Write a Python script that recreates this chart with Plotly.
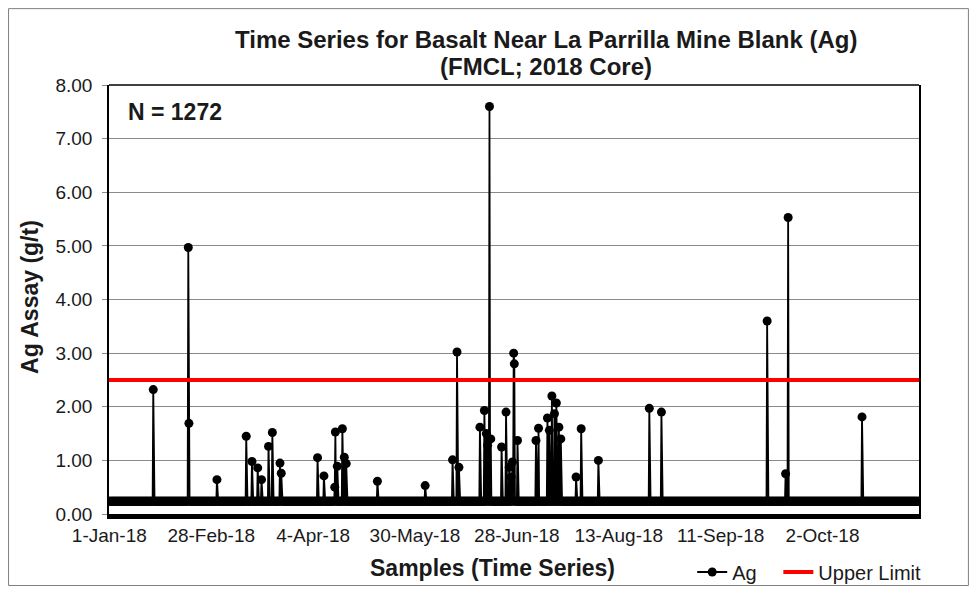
import numpy as np
import plotly.graph_objects as go

# Ag blank assays, FMCL 2018 core (g/t). Nearly every sample sits at the
# detection floor; only the samples listed in spike_idx returned higher values.
n_samples = 1272
detection_floor = 0.24
spike_idx = [70, 125, 126, 170, 216, 225, 234, 240, 251, 257, 269, 271,
             328, 338, 355, 356, 359, 367, 370, 373, 422, 497, 540, 547,
             550, 583, 590, 593, 595, 598, 600, 617, 624, 629, 632, 634,
             636, 637, 642, 671, 675, 689, 692, 696, 700, 703, 707, 710,
             734, 742, 769, 849, 868, 1034, 1063, 1067, 1183]
spike_val = [2.32, 4.97, 1.69, 0.64, 1.45, 0.98, 0.86, 0.64, 1.26, 1.52, 0.95, 0.76,
             1.05, 0.71, 0.50, 1.53, 0.89, 1.59, 1.06, 0.94, 0.61, 0.53, 1.01, 3.02,
             0.87, 1.62, 1.93, 1.50, 1.28, 7.60, 1.40, 1.25, 1.90, 0.87, 0.69, 0.97,
             3.00, 2.80, 1.37, 1.37, 1.60, 1.79, 1.56, 2.20, 1.87, 2.07, 1.62, 1.40,
             0.69, 1.59, 1.00, 1.97, 1.90, 3.60, 0.75, 5.53, 1.81]
upper_limit = 2.5

tick_pos = [1, 161, 321, 481, 641, 801, 961, 1121]
tick_labels = ["1-Jan-18", "28-Feb-18", "4-Apr-18", "30-May-18",
               "28-Jun-18", "13-Aug-18", "11-Sep-18", "2-Oct-18"]

samples = np.arange(1, n_samples + 1)
ag = np.full(n_samples, detection_floor)
ag[np.array(spike_idx) - 1] = spike_val

FONT = "Liberation Sans, Arial, sans-serif"
TXT = '#1a1a1a'
NB = '\u00a0'

fig = go.Figure()

fig.add_trace(go.Scatter(
    x=samples, y=ag,
    mode='lines+markers',
    name='Ag' + NB * 3,
    line=dict(color='black', width=1.8),
    marker=dict(color='black', size=9, symbol='circle'),
))

fig.add_trace(go.Scatter(
    x=[samples[0] - 0.5, samples[-1] + 0.5],
    y=[upper_limit, upper_limit],
    mode='lines',
    name='Upper Limit',
    line=dict(color='#ff0000', width=4),
))

# the page body keeps its default 8px margin, so the figure is kept inside
# the window and the margins are trimmed to match
fig.update_layout(
    width=961, height=578,
    margin=dict(l=101, r=50, t=77, b=72, autoexpand=False),
    paper_bgcolor='white',
    plot_bgcolor='white',
    font=dict(family=FONT, size=19, color=TXT),
    showlegend=True,
    legend=dict(
        orientation='h',
        xref='paper', yref='container',
        x=0.72, y=0.0242, xanchor='left', yanchor='middle',
        font=dict(size=20),
        bgcolor='rgba(0,0,0,0)',
    ),
    xaxis=dict(
        range=[0.5, n_samples + 0.5],
        tickmode='array', tickvals=tick_pos, ticktext=tick_labels,
        showgrid=False, zeroline=False,
        showline=True, linecolor='black', linewidth=5,
        ticks='', tickfont=dict(size=19),
    ),
    yaxis=dict(
        range=[0, 8], dtick=1, tickformat='.2f',
        showgrid=True, gridcolor='#8a8a8a', gridwidth=1,
        zeroline=False,
        showline=True, linecolor='black', linewidth=1.5, mirror=True,
        ticks='outside', ticklen=5, tickcolor='#8a8a8a',
        ticklabelstandoff=6,
        tickfont=dict(size=19),
    ),
    shapes=[
        # top border of plot area
        dict(type='line', xref='paper', yref='paper', x0=0, x1=1, y0=1, y1=1,
             line=dict(color='black', width=1.5)),
        # outer chart border
        dict(type='rect', xref='paper', yref='paper',
             x0=-0.124, x1=1.061, y0=-0.1667, y1=1.178,
             line=dict(color='#7f7f7f', width=1)),
    ],
    annotations=[
        dict(text="<b>Time Series for Basalt Near La Parrilla Mine Blank (Ag)</b>",
             xref='paper', yref='paper', x=0.54, y=1.105,
             xanchor='center', yanchor='middle', showarrow=False,
             font=dict(size=24, color=TXT)),
        dict(text="<b>(FMCL; 2018 Core)</b>",
             xref='paper', yref='paper', x=0.54, y=1.044,
             xanchor='center', yanchor='middle', showarrow=False,
             font=dict(size=24, color=TXT)),
        dict(text="<b>N = 1272</b>",
             xref='paper', yref='paper', x=0.021, y=0.937,
             xanchor='left', yanchor='middle', showarrow=False,
             font=dict(size=23, color=TXT)),
        dict(text="<b>Samples (Time Series)</b>",
             xref='paper', yref='paper', x=0.473, y=-0.126,
             xanchor='center', yanchor='middle', showarrow=False,
             font=dict(size=23, color=TXT)),
        dict(text="<b>Ag Assay (g/t)</b>",
             xref='paper', yref='paper', x=-0.0975, y=0.506,
             xanchor='center', yanchor='middle', showarrow=False,
             textangle=-90,
             font=dict(size=23, color=TXT)),
    ],
)

fig.write_html("out.html")
